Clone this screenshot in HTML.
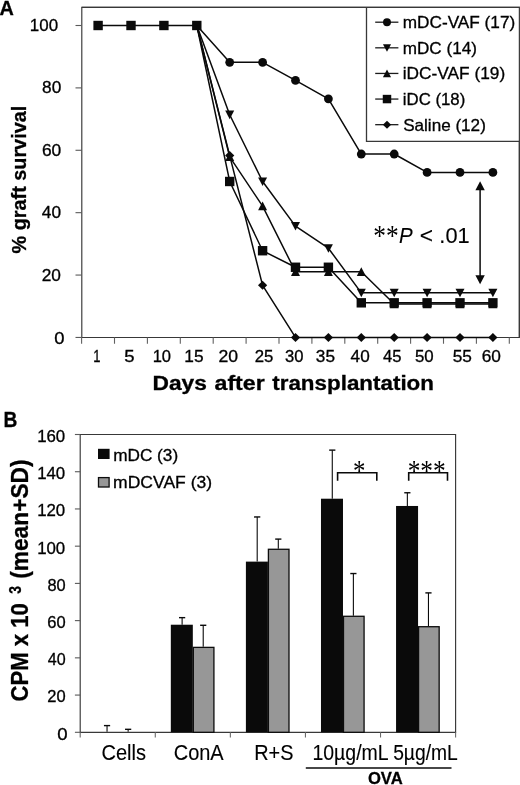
<!DOCTYPE html>
<html lang="en">
<head>
<meta charset="utf-8">
<title>Graft survival and CPM figure</title>
<style>
html,body{margin:0;padding:0;background:#fff;}
body{width:520px;height:785px;overflow:hidden;}
svg{display:block;filter:grayscale(1);}
text{white-space:pre;}
.sans{font-family:"Liberation Sans",Arial,Helvetica,sans-serif;stroke:#000;stroke-width:0.3px;}
.lt{stroke-width:0.12px;}
.serif{font-family:"Liberation Serif","Times New Roman",Times,serif;}
</style>
</head>
<body>
<svg width="520" height="785" viewBox="0 0 520 785">
<rect width="520" height="785" fill="#ffffff"/>
<path d="M81.8,7.4 H519.35 V337.45 H81.8 Z" fill="none" stroke="#383838" stroke-width="1.15"/>
<line x1="75.50" y1="337.45" x2="81.80" y2="337.45" stroke="#5a5a5a" stroke-width="1.1" />
<line x1="75.50" y1="275.06" x2="81.80" y2="275.06" stroke="#5a5a5a" stroke-width="1.1" />
<line x1="75.50" y1="212.67" x2="81.80" y2="212.67" stroke="#5a5a5a" stroke-width="1.1" />
<line x1="75.50" y1="150.28" x2="81.80" y2="150.28" stroke="#5a5a5a" stroke-width="1.1" />
<line x1="75.50" y1="87.89" x2="81.80" y2="87.89" stroke="#5a5a5a" stroke-width="1.1" />
<line x1="75.50" y1="25.50" x2="81.80" y2="25.50" stroke="#5a5a5a" stroke-width="1.1" />
<line x1="81.60" y1="337.45" x2="81.60" y2="343.75" stroke="#606060" stroke-width="1.1" />
<line x1="114.50" y1="337.45" x2="114.50" y2="343.75" stroke="#606060" stroke-width="1.1" />
<line x1="147.40" y1="337.45" x2="147.40" y2="343.75" stroke="#606060" stroke-width="1.1" />
<line x1="180.30" y1="337.45" x2="180.30" y2="343.75" stroke="#606060" stroke-width="1.1" />
<line x1="213.20" y1="337.45" x2="213.20" y2="343.75" stroke="#606060" stroke-width="1.1" />
<line x1="246.10" y1="337.45" x2="246.10" y2="343.75" stroke="#606060" stroke-width="1.1" />
<line x1="279.00" y1="337.45" x2="279.00" y2="343.75" stroke="#606060" stroke-width="1.1" />
<line x1="311.90" y1="337.45" x2="311.90" y2="343.75" stroke="#606060" stroke-width="1.1" />
<line x1="344.80" y1="337.45" x2="344.80" y2="343.75" stroke="#606060" stroke-width="1.1" />
<line x1="377.70" y1="337.45" x2="377.70" y2="343.75" stroke="#606060" stroke-width="1.1" />
<line x1="410.60" y1="337.45" x2="410.60" y2="343.75" stroke="#606060" stroke-width="1.1" />
<line x1="443.50" y1="337.45" x2="443.50" y2="343.75" stroke="#606060" stroke-width="1.1" />
<line x1="476.40" y1="337.45" x2="476.40" y2="343.75" stroke="#606060" stroke-width="1.1" />
<line x1="509.30" y1="337.45" x2="509.30" y2="343.75" stroke="#606060" stroke-width="1.1" />
<g fill="#0a0a0a"><path d="M98.10,25.50 L131.00,25.50 L163.90,25.50 L196.80,25.50 L229.70,62.31 L262.60,62.31 L295.50,80.40 L328.40,98.81 L361.30,154.02 L394.20,154.02 L427.10,172.43 L460.00,172.43 L492.90,172.43" fill="none" stroke="#0a0a0a" stroke-width="1.5" stroke-linejoin="round"/>
<circle cx="229.70" cy="62.31" r="4.40"/>
<circle cx="262.60" cy="62.31" r="4.40"/>
<circle cx="295.50" cy="80.40" r="4.40"/>
<circle cx="328.40" cy="98.81" r="4.40"/>
<circle cx="361.30" cy="154.02" r="4.40"/>
<circle cx="394.20" cy="154.02" r="4.40"/>
<circle cx="427.10" cy="172.43" r="4.40"/>
<circle cx="460.00" cy="172.43" r="4.40"/>
<circle cx="492.90" cy="172.43" r="4.40"/>
</g>
<g fill="#0a0a0a"><path d="M196.80,25.50 L229.70,114.72 L262.60,181.47 L295.50,226.08 L328.40,248.23 L361.30,292.84 L394.20,292.84 L427.10,292.84 L460.00,292.84 L492.90,292.84" fill="none" stroke="#0a0a0a" stroke-width="1.5" stroke-linejoin="round"/>
<path d="M225.20,110.62 h9.00 l-4.50,8.60 z"/>
<path d="M258.10,177.38 h9.00 l-4.50,8.60 z"/>
<path d="M291.00,221.98 h9.00 l-4.50,8.60 z"/>
<path d="M323.90,244.13 h9.00 l-4.50,8.60 z"/>
<path d="M356.80,288.74 h9.00 l-4.50,8.60 z"/>
<path d="M389.70,288.74 h9.00 l-4.50,8.60 z"/>
<path d="M422.60,288.74 h9.00 l-4.50,8.60 z"/>
<path d="M455.50,288.74 h9.00 l-4.50,8.60 z"/>
<path d="M488.40,288.74 h9.00 l-4.50,8.60 z"/>
</g>
<g fill="#0a0a0a"><path d="M196.80,25.50 L229.70,156.83 L262.60,206.12 L295.50,271.78 L328.40,271.78 L361.30,271.78 L394.20,304.07 L427.10,304.07 L460.00,304.07 L492.90,304.07" fill="none" stroke="#0a0a0a" stroke-width="1.5" stroke-linejoin="round"/>
<path d="M225.20,160.93 h9.00 l-4.50,-8.60 z"/>
<path d="M258.10,210.22 h9.00 l-4.50,-8.60 z"/>
<path d="M291.00,275.88 h9.00 l-4.50,-8.60 z"/>
<path d="M323.90,275.88 h9.00 l-4.50,-8.60 z"/>
<path d="M356.80,275.88 h9.00 l-4.50,-8.60 z"/>
<path d="M389.70,308.17 h9.00 l-4.50,-8.60 z"/>
<path d="M422.60,308.17 h9.00 l-4.50,-8.60 z"/>
<path d="M455.50,308.17 h9.00 l-4.50,-8.60 z"/>
<path d="M488.40,308.17 h9.00 l-4.50,-8.60 z"/>
</g>
<g fill="#0a0a0a"><path d="M196.80,25.50 L229.70,181.47 L262.60,250.73 L295.50,267.26 L328.40,267.26 L361.30,302.82 L394.20,302.82 L427.10,302.82 L460.00,302.82 L492.90,302.82" fill="none" stroke="#0a0a0a" stroke-width="1.5" stroke-linejoin="round"/>
<rect x="93.40" y="20.80" width="9.40" height="9.40"/>
<rect x="126.30" y="20.80" width="9.40" height="9.40"/>
<rect x="159.20" y="20.80" width="9.40" height="9.40"/>
<rect x="192.10" y="20.80" width="9.40" height="9.40"/>
<rect x="225.00" y="176.78" width="9.40" height="9.40"/>
<rect x="257.90" y="246.03" width="9.40" height="9.40"/>
<rect x="290.80" y="262.56" width="9.40" height="9.40"/>
<rect x="323.70" y="262.56" width="9.40" height="9.40"/>
<rect x="356.60" y="298.12" width="9.40" height="9.40"/>
<rect x="389.50" y="298.12" width="9.40" height="9.40"/>
<rect x="422.40" y="298.12" width="9.40" height="9.40"/>
<rect x="455.30" y="298.12" width="9.40" height="9.40"/>
<rect x="488.20" y="298.12" width="9.40" height="9.40"/>
</g>
<g fill="#0a0a0a"><path d="M196.80,25.50 L229.70,155.58 L262.60,285.35 L295.50,337.45 L328.40,337.45 L361.30,337.45 L394.20,337.45 L427.10,337.45 L460.00,337.45 L492.90,337.45" fill="none" stroke="#0a0a0a" stroke-width="1.5" stroke-linejoin="round"/>
<path d="M225.10,155.58 L229.70,151.08 L234.30,155.58 L229.70,160.08 z"/>
<path d="M258.00,285.35 L262.60,280.85 L267.20,285.35 L262.60,289.85 z"/>
<path d="M290.90,337.45 L295.50,332.95 L300.10,337.45 L295.50,341.95 z"/>
<path d="M323.80,337.45 L328.40,332.95 L333.00,337.45 L328.40,341.95 z"/>
<path d="M356.70,337.45 L361.30,332.95 L365.90,337.45 L361.30,341.95 z"/>
<path d="M389.60,337.45 L394.20,332.95 L398.80,337.45 L394.20,341.95 z"/>
<path d="M422.50,337.45 L427.10,332.95 L431.70,337.45 L427.10,341.95 z"/>
<path d="M455.40,337.45 L460.00,332.95 L464.60,337.45 L460.00,341.95 z"/>
<path d="M488.30,337.45 L492.90,332.95 L497.50,337.45 L492.90,341.95 z"/>
</g>
<rect x="366.5" y="7.4" width="152.85000000000002" height="133.9" fill="#fff"/>
<path d="M366.5,7.4 V141.3 H519.35" fill="none" stroke="#383838" stroke-width="1.3"/>
<path d="M81.8,7.4 H519.35 V337.45" fill="none" stroke="#383838" stroke-width="1.15"/>
<g fill="#0a0a0a">
<line x1="375.20" y1="22.20" x2="398.40" y2="22.20" stroke="#1c1c1c" stroke-width="1.3" />
<circle cx="387.00" cy="22.20" r="3.96"/>
</g>
<text transform="translate(402.74,28.20) scale(1.0566,1)" class="sans" font-size="16.3" fill="#000">mDC-VAF (17)</text>
<g fill="#0a0a0a">
<line x1="375.20" y1="47.82" x2="398.40" y2="47.82" stroke="#1c1c1c" stroke-width="1.3" />
<path d="M382.95,44.13 h8.10 l-4.05,7.74 z"/>
</g>
<text transform="translate(402.74,53.80) scale(1.0505,1)" class="sans" font-size="16.3" fill="#000">mDC (14)</text>
<g fill="#0a0a0a">
<line x1="375.20" y1="73.44" x2="398.40" y2="73.44" stroke="#1c1c1c" stroke-width="1.3" />
<path d="M382.95,77.13 h8.10 l-4.05,-7.74 z"/>
</g>
<text transform="translate(402.73,79.40) scale(1.0614,1)" class="sans" font-size="16.3" fill="#000">iDC-VAF (19)</text>
<g fill="#0a0a0a">
<line x1="375.20" y1="99.06" x2="398.40" y2="99.06" stroke="#1c1c1c" stroke-width="1.3" />
<rect x="382.77" y="94.83" width="8.46" height="8.46"/>
</g>
<text transform="translate(402.77,105.00) scale(1.0307,1)" class="sans" font-size="16.3" fill="#000">iDC (18)</text>
<g fill="#0a0a0a">
<line x1="375.20" y1="124.68" x2="398.40" y2="124.68" stroke="#1c1c1c" stroke-width="1.3" />
<path d="M382.86,124.68 L387.00,120.63 L391.14,124.68 L387.00,128.73 z"/>
</g>
<text transform="translate(403.13,130.60) scale(1.0493,1)" class="sans" font-size="16.3" fill="#000">Saline (12)</text>
<text transform="translate(29.83,30.60) scale(1.0440,1)" class="sans" font-size="16.2" fill="#000">100</text>
<text transform="translate(42.07,93.20) scale(1.0668,1)" class="sans" font-size="16.2" fill="#000">80</text>
<text transform="translate(41.93,156.00) scale(1.0746,1)" class="sans" font-size="16.2" fill="#000">60</text>
<text transform="translate(41.81,218.40) scale(1.0641,1)" class="sans" font-size="16.2" fill="#000">40</text>
<text transform="translate(41.73,281.20) scale(1.0686,1)" class="sans" font-size="16.2" fill="#000">20</text>
<text transform="translate(54.16,343.80) scale(1.1376,1)" class="sans" font-size="16.2" fill="#000">0</text>
<text transform="translate(93.23,362.20) scale(0.7993,1)" class="sans" font-size="16.2" fill="#000">1</text>
<text transform="translate(124.26,362.20) scale(1.1436,1)" class="sans" font-size="16.2" fill="#000">5</text>
<text transform="translate(152.66,362.20) scale(1.0211,1)" class="sans" font-size="16.2" fill="#000">10</text>
<text transform="translate(184.30,362.20) scale(1.0671,1)" class="sans" font-size="16.2" fill="#000">15</text>
<text transform="translate(218.42,362.20) scale(1.0867,1)" class="sans" font-size="16.2" fill="#000">20</text>
<text transform="translate(254.76,362.20) scale(1.0349,1)" class="sans" font-size="16.2" fill="#000">25</text>
<text transform="translate(285.08,362.20) scale(1.0258,1)" class="sans" font-size="16.2" fill="#000">30</text>
<text transform="translate(315.85,362.20) scale(1.0642,1)" class="sans" font-size="16.2" fill="#000">35</text>
<text transform="translate(350.61,362.20) scale(1.0582,1)" class="sans" font-size="16.2" fill="#000">40</text>
<text transform="translate(382.93,362.20) scale(1.0254,1)" class="sans" font-size="16.2" fill="#000">45</text>
<text transform="translate(414.93,362.20) scale(1.0403,1)" class="sans" font-size="16.2" fill="#000">50</text>
<text transform="translate(452.71,362.20) scale(1.0668,1)" class="sans" font-size="16.2" fill="#000">55</text>
<text transform="translate(481.73,362.20) scale(1.0686,1)" class="sans" font-size="16.2" fill="#000">60</text>
<text transform="translate(26.10,253.40) rotate(-90) scale(0.9673,1)" class="sans" font-size="20.5" font-weight="bold" fill="#000">% graft survival</text>
<text transform="translate(152.46,390.20) scale(1.0953,1)" class="sans" font-size="20.8" font-weight="bold" fill="#000">Days</text>
<text transform="translate(214.50,390.20) scale(1.1144,1)" class="sans" font-size="20.8" font-weight="bold" fill="#000">after</text>
<text transform="translate(272.22,390.20) scale(1.0772,1)" class="sans" font-size="20.8" font-weight="bold" fill="#000">transplantation</text>
<text transform="translate(-0.60,14.70) scale(1.0026,1)" class="sans" font-size="19.8" font-weight="bold" fill="#000">A</text>
<text transform="translate(373.33,244.60) scale(0.8934,1)" class="serif lt" font-size="28.4" fill="#000">**</text>
<text transform="translate(398.99,243.20) scale(0.9659,1)" class="sans lt" font-size="21.2" font-style="italic" fill="#000">P</text>
<text transform="translate(419.87,243.20) scale(1.0698,1)" class="sans lt" font-size="21.2" fill="#000">&lt;</text>
<text transform="translate(439.34,243.20) scale(1.0281,1)" class="sans lt" font-size="21.2" fill="#000">.01</text>
<line x1="480.10" y1="189.00" x2="480.10" y2="277.00" stroke="#0a0a0a" stroke-width="1.5" />
<path d="M480.1,181.2 l4.7,9.0 h-9.4 z M480.1,284.3 l4.7,-9.0 h-9.4 z" fill="#0a0a0a"/>
<path d="M80.2,434.5 H455.6 V732.3 H80.2 Z" fill="none" stroke="#383838" stroke-width="1.15"/>
<line x1="74.90" y1="732.30" x2="80.20" y2="732.30" stroke="#5a5a5a" stroke-width="1.1" />
<line x1="74.90" y1="695.07" x2="80.20" y2="695.07" stroke="#5a5a5a" stroke-width="1.1" />
<line x1="74.90" y1="657.85" x2="80.20" y2="657.85" stroke="#5a5a5a" stroke-width="1.1" />
<line x1="74.90" y1="620.62" x2="80.20" y2="620.62" stroke="#5a5a5a" stroke-width="1.1" />
<line x1="74.90" y1="583.40" x2="80.20" y2="583.40" stroke="#5a5a5a" stroke-width="1.1" />
<line x1="74.90" y1="546.17" x2="80.20" y2="546.17" stroke="#5a5a5a" stroke-width="1.1" />
<line x1="74.90" y1="508.95" x2="80.20" y2="508.95" stroke="#5a5a5a" stroke-width="1.1" />
<line x1="74.90" y1="471.73" x2="80.20" y2="471.73" stroke="#5a5a5a" stroke-width="1.1" />
<line x1="74.90" y1="434.50" x2="80.20" y2="434.50" stroke="#5a5a5a" stroke-width="1.1" />
<line x1="80.20" y1="732.30" x2="80.20" y2="737.50" stroke="#6a6a6a" stroke-width="1.1" />
<line x1="155.28" y1="732.30" x2="155.28" y2="737.50" stroke="#6a6a6a" stroke-width="1.1" />
<line x1="230.36" y1="732.30" x2="230.36" y2="737.50" stroke="#6a6a6a" stroke-width="1.1" />
<line x1="305.44" y1="732.30" x2="305.44" y2="737.50" stroke="#6a6a6a" stroke-width="1.1" />
<line x1="380.52" y1="732.30" x2="380.52" y2="737.50" stroke="#6a6a6a" stroke-width="1.1" />
<line x1="455.60" y1="732.30" x2="455.60" y2="737.50" stroke="#6a6a6a" stroke-width="1.1" />
<line x1="107.04" y1="725.60" x2="107.04" y2="731.65" stroke="#0a0a0a" stroke-width="1.1" />
<line x1="103.94" y1="725.60" x2="110.14" y2="725.60" stroke="#0a0a0a" stroke-width="1.4" />
<line x1="128.14" y1="729.32" x2="128.14" y2="731.74" stroke="#0a0a0a" stroke-width="1.1" />
<line x1="125.04" y1="729.32" x2="131.24" y2="729.32" stroke="#0a0a0a" stroke-width="1.4" />
<line x1="182.12" y1="617.65" x2="182.12" y2="624.72" stroke="#0a0a0a" stroke-width="1.1" />
<line x1="179.02" y1="617.65" x2="185.22" y2="617.65" stroke="#0a0a0a" stroke-width="1.4" />
<line x1="203.22" y1="625.28" x2="203.22" y2="646.87" stroke="#0a0a0a" stroke-width="1.1" />
<line x1="200.12" y1="625.28" x2="206.32" y2="625.28" stroke="#0a0a0a" stroke-width="1.4" />
<rect x="170.82" y="624.72" width="22.00" height="107.58" fill="#0a0a0a"/>
<rect x="193.32" y="647.37" width="20.60" height="84.93" fill="#979797" stroke="#0c0c0c" stroke-width="1.3"/>
<line x1="257.20" y1="516.95" x2="257.20" y2="561.62" stroke="#0a0a0a" stroke-width="1.1" />
<line x1="254.10" y1="516.95" x2="260.30" y2="516.95" stroke="#0a0a0a" stroke-width="1.4" />
<line x1="278.30" y1="539.10" x2="278.30" y2="548.78" stroke="#0a0a0a" stroke-width="1.1" />
<line x1="275.20" y1="539.10" x2="281.40" y2="539.10" stroke="#0a0a0a" stroke-width="1.4" />
<rect x="245.90" y="561.62" width="22.00" height="170.68" fill="#0a0a0a"/>
<rect x="268.40" y="549.28" width="20.60" height="183.02" fill="#979797" stroke="#0c0c0c" stroke-width="1.3"/>
<line x1="332.28" y1="450.13" x2="332.28" y2="498.71" stroke="#0a0a0a" stroke-width="1.1" />
<line x1="329.18" y1="450.13" x2="335.38" y2="450.13" stroke="#0a0a0a" stroke-width="1.4" />
<line x1="353.38" y1="573.54" x2="353.38" y2="615.79" stroke="#0a0a0a" stroke-width="1.1" />
<line x1="350.28" y1="573.54" x2="356.48" y2="573.54" stroke="#0a0a0a" stroke-width="1.4" />
<rect x="320.98" y="498.71" width="22.00" height="233.59" fill="#0a0a0a"/>
<rect x="343.48" y="616.29" width="20.60" height="116.01" fill="#979797" stroke="#0c0c0c" stroke-width="1.3"/>
<line x1="407.36" y1="492.76" x2="407.36" y2="505.97" stroke="#0a0a0a" stroke-width="1.1" />
<line x1="404.26" y1="492.76" x2="410.46" y2="492.76" stroke="#0a0a0a" stroke-width="1.4" />
<line x1="428.46" y1="592.89" x2="428.46" y2="626.21" stroke="#0a0a0a" stroke-width="1.1" />
<line x1="425.36" y1="592.89" x2="431.56" y2="592.89" stroke="#0a0a0a" stroke-width="1.4" />
<rect x="396.06" y="505.97" width="22.00" height="226.33" fill="#0a0a0a"/>
<rect x="418.56" y="626.71" width="20.60" height="105.59" fill="#979797" stroke="#0c0c0c" stroke-width="1.3"/>
<rect x="98.0" y="448.8" width="11.6" height="10.2" fill="#0a0a0a"/>
<rect x="98.5" y="477.6" width="10.6" height="9.4" fill="#979797" stroke="#0c0c0c" stroke-width="1.3"/>
<text transform="translate(113.14,460.50) scale(1.0771,1)" class="sans" font-size="16.0" fill="#000">mDC (3)</text>
<text transform="translate(113.12,488.40) scale(1.0960,1)" class="sans" font-size="16.0" fill="#000">mDCVAF (3)</text>
<text transform="translate(57.25,739.70) scale(1.1505,1)" class="sans" font-size="16.2" fill="#000">0</text>
<text transform="translate(47.27,702.47) scale(1.0203,1)" class="sans" font-size="16.2" fill="#000">20</text>
<text transform="translate(47.74,665.25) scale(0.9935,1)" class="sans" font-size="16.2" fill="#000">40</text>
<text transform="translate(47.27,628.02) scale(1.0203,1)" class="sans" font-size="16.2" fill="#000">60</text>
<text transform="translate(47.40,590.80) scale(1.0128,1)" class="sans" font-size="16.2" fill="#000">80</text>
<text transform="translate(37.14,553.57) scale(1.0401,1)" class="sans" font-size="16.2" fill="#000">100</text>
<text transform="translate(37.14,516.35) scale(1.0401,1)" class="sans" font-size="16.2" fill="#000">120</text>
<text transform="translate(37.14,479.12) scale(1.0401,1)" class="sans" font-size="16.2" fill="#000">140</text>
<text transform="translate(37.14,441.90) scale(1.0401,1)" class="sans" font-size="16.2" fill="#000">160</text>
<text transform="translate(101.40,760.20) scale(0.9467,1)" class="sans lt" font-size="21.2" fill="#000">Cells</text>
<text transform="translate(173.70,760.20) scale(0.9434,1)" class="sans lt" font-size="21.2" fill="#000">ConA</text>
<text transform="translate(254.16,760.20) scale(0.9383,1)" class="sans lt" font-size="21.2" fill="#000">R+S</text>
<text transform="translate(312.44,760.20) scale(0.9192,1)" class="sans lt" font-size="21.2" fill="#000">10µg/mL</text>
<text transform="translate(393.13,760.20) scale(0.9096,1)" class="sans lt" font-size="21.2" fill="#000">5µg/mL</text>
<line x1="305.80" y1="768.00" x2="451.50" y2="768.00" stroke="#0a0a0a" stroke-width="1.5" />
<text transform="translate(367.93,784.10) scale(1.0025,1)" class="sans" font-size="16.6" font-weight="bold" fill="#000">OVA</text>
<text transform="translate(3.41,426.90) scale(0.9047,1)" class="sans" font-size="21.2" font-weight="bold" fill="#000">B</text>
<text transform="translate(28.30,701.38) rotate(-90) scale(0.9212,1)" class="sans" font-size="24.0" font-weight="bold" fill="#000">CPM x 10</text>
<text transform="translate(21.30,593.71) rotate(-90) scale(0.8256,1)" class="sans" font-size="16.8" font-weight="bold" fill="#000">3</text>
<text transform="translate(28.30,578.84) rotate(-90) scale(0.9482,1)" class="sans" font-size="24.0" font-weight="bold" fill="#000">(mean+SD)</text>
<path d="M337.6,480.8 V472.7 H376.8 V480.7" fill="none" stroke="#0a0a0a" stroke-width="1.6"/>
<path d="M408.7,480.8 V472.7 H447.5 V480.7" fill="none" stroke="#0a0a0a" stroke-width="1.6"/>
<text transform="translate(353.06,479.90) scale(0.8748,1)" class="serif lt" font-size="28.4" fill="#000">*</text>
<text transform="translate(407.63,479.90) scale(0.8938,1)" class="serif lt" font-size="28.4" fill="#000">***</text>
</svg>
</body>
</html>
